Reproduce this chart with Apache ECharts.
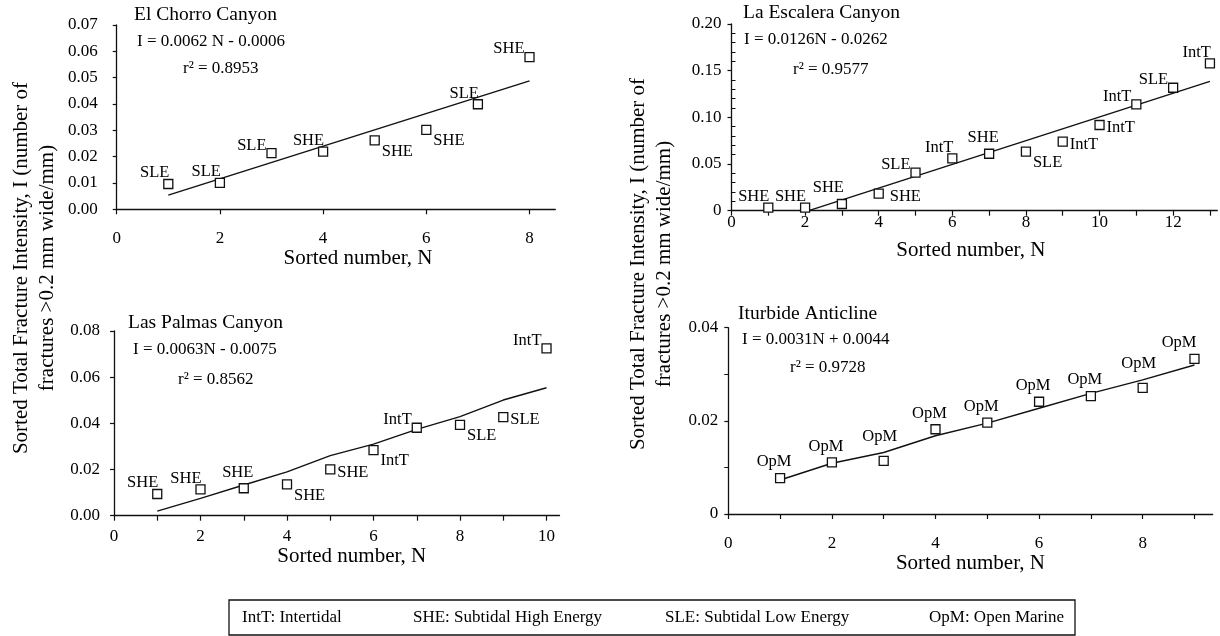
<!DOCTYPE html>
<html>
<head>
<meta charset="utf-8">
<script src="https://cdn.jsdelivr.net/npm/echarts@6/dist/echarts.min.js"></script>
<style>
  html, body { margin: 0; padding: 0; background: #fff; }
  #chart { width: 1220px; height: 636px; }
</style>
</head>
<body>
<div id="chart"></div>
<script>
// El Chorro Canyon
var chorroN = [1, 2, 3, 4, 5, 6, 7, 8];
var chorroI = [0.0096, 0.0100, 0.0213, 0.0219, 0.0262, 0.0302, 0.0399, 0.0578];
var chorroFacies = ["SLE", "SLE", "SLE", "SHE", "SHE", "SHE", "SLE", "SHE"];
var chorroFitN = [1, 8];
var chorroFitI = [0.0054, 0.0488];

// La Escalera Canyon
var escaleraN = [1, 2, 3, 4, 5, 6, 7, 8, 9, 10, 11, 12, 13];
var escaleraI = [0.0032, 0.0032, 0.0072, 0.0182, 0.0407, 0.0561, 0.0610, 0.0632, 0.0739, 0.0918, 0.1139, 0.1317, 0.1578];
var escaleraFacies = ["SHE", "SHE", "SHE", "SHE", "SLE", "IntT", "SHE", "SLE", "IntT", "IntT", "IntT", "SLE", "IntT"];
var escaleraFitN = [2.1, 13];
var escaleraFitI = [0, 0.1385];

// Las Palmas Canyon
var palmasN = [1, 2, 3, 4, 5, 6, 7, 8, 9, 10];
var palmasI = [0.0094, 0.0114, 0.0119, 0.0136, 0.0201, 0.0284, 0.0381, 0.0393, 0.0427, 0.0725];
var palmasFacies = ["SHE", "SHE", "SHE", "SHE", "SHE", "IntT", "IntT", "SLE", "SLE", "IntT"];
var palmasFitN = [1, 2, 3, 4, 5, 6, 7, 8, 9, 10];
var palmasFitI = [0.0020, 0.0075, 0.0133, 0.0190, 0.0260, 0.0310, 0.0374, 0.0429, 0.0501, 0.0554];

// Iturbide Anticline
var iturbideN = [1, 2, 3, 4, 5, 6, 7, 8, 9];
var iturbideI = [0.0077, 0.0111, 0.0114, 0.0182, 0.0196, 0.0241, 0.0253, 0.0271, 0.0333];
var iturbideFacies = ["OpM", "OpM", "OpM", "OpM", "OpM", "OpM", "OpM", "OpM", "OpM"];
var iturbideFitN = [1, 2, 3, 4, 5, 6, 7, 8, 9];
var iturbideFitI = [0.0073, 0.0109, 0.0132, 0.0168, 0.0195, 0.0227, 0.0259, 0.0288, 0.0320];

// tick values
var chorroTicks = [0, 2, 4, 6, 8];
var escaleraTicks = [0, 1, 2, 3, 4, 5, 6, 7, 8, 9, 10, 11, 12, 13];
var escaleraTickLabels = [0, 2, 4, 6, 8, 10, 12];
var palmasTicks = [0, 1, 2, 3, 4, 5, 6, 7, 8, 9, 10];
var palmasTickLabels = [0, 2, 4, 6, 8, 10];
var iturbideTicks = [0, 1, 2, 3, 4, 5, 6, 7, 8, 9];
var iturbideTickLabels = [0, 2, 4, 6, 8];

// where each facies label sits next to its square
var chorroLabelAt = ["ul", "ul", "l", "ul", "lr", "lr", "ul", "l"];
var escaleraLabelAt = ["ul", "ul", "ulh", "rr", "l", "ul", "u", "lr", "r", "r", "l", "l", "ul"];
var palmasLabelAt = ["ul", "ul", "u", "lr", "r", "lr", "l", "lr", "r", "l"];
var iturbideLabelAt = ["u", "u", "uu", "u", "u", "u", "u", "uu", "ulh"];

var FONT = "'Liberation Serif', 'Times New Roman', serif";
var INK = "#111";

var placeStyle = {
  ul:  { align: "right",  offset: [1, -11] },
  ulh: { align: "right",  offset: [2, -16] },
  l:   { align: "right",  offset: [-5, -8] },
  lr:  { align: "left",   offset: [7, 11] },
  r:   { align: "left",   offset: [7, 3] },
  rr:  { align: "left",   offset: [11, 3] },
  u:   { align: "center", offset: [-6, -16] },
  uu:  { align: "center", offset: [-4, -24] }
};

function pairs(xs, ys) {
  return xs.map(function (x, i) { return [x, ys[i]]; });
}

function points(xs, ys, names, at) {
  return xs.map(function (x, i) {
    var p = placeStyle[at[i]];
    return {
      value: [x, ys[i]],
      name: names[i],
      label: { align: p.align, offset: p.offset }
    };
  });
}

function xAxisFor(i, max, ticks, labels, labelMargin, nameGap, namePad) {
  return {
    type: "value", gridIndex: i, min: 0, max: max,
    name: "Sorted number, N", nameLocation: "middle", nameGap: nameGap,
    nameTextStyle: { fontFamily: FONT, fontSize: 21, color: "#000", padding: namePad },
    axisLine: { lineStyle: { color: INK, width: 1.3 } },
    axisTick: { customValues: ticks, length: 5, lineStyle: { color: INK, width: 1.2 } },
    axisLabel: { customValues: labels, margin: labelMargin, fontFamily: FONT, fontSize: 17, color: "#000" },
    splitLine: { show: false }
  };
}

function yAxisFor(i, max, interval, zeroText, margin, minor) {
  return {
    type: "value", gridIndex: i, min: 0, max: max, interval: interval,
    axisLine: { show: true, lineStyle: { color: INK, width: 1.3 } },
    axisTick: { show: true, length: 4, lineStyle: { color: INK, width: 1.2 } },
    minorTick: minor || { show: false },
    axisLabel: {
      margin: margin, fontFamily: FONT, fontSize: 17, color: "#000",
      formatter: function (v) { return v === 0 && zeroText ? zeroText : v.toFixed(2); }
    },
    splitLine: { show: false }
  };
}

function fitLine(i, xs, ys) {
  return {
    type: "line", xAxisIndex: i, yAxisIndex: i, data: pairs(xs, ys),
    symbol: "none", silent: true, z: 2,
    lineStyle: { color: INK, width: 1.4 }
  };
}

function faciesPoints(i, xs, ys, names, at) {
  return {
    type: "scatter", xAxisIndex: i, yAxisIndex: i, symbol: "rect", symbolSize: 9, z: 3,
    itemStyle: { color: "#fff", borderColor: INK, borderWidth: 1.3, opacity: 1 },
    label: {
      show: true, position: "inside", verticalAlign: "middle",
      formatter: "{b}", fontFamily: FONT, fontSize: 16.5, color: "#000"
    },
    data: points(xs, ys, names, at)
  };
}

function note(x, y, text, size) {
  return {
    type: "text", x: x, y: y, silent: true,
    style: { text: text, font: size + "px " + FONT, fill: "#000", textVerticalAlign: "middle" }
  };
}

function yTitle(x, y) {
  return {
    type: "text", x: x, y: y, rotation: Math.PI / 2, silent: true,
    style: {
      text: "Sorted Total Fracture Intensity, I (number of\nfractures >0.2 mm wide/mm)",
      font: "21px " + FONT, fill: "#000", textAlign: "center", textVerticalAlign: "middle",
      lineHeight: 26
    }
  };
}

var chart = echarts.init(document.getElementById("chart"));
chart.setOption({
  animation: false,
  backgroundColor: "#fff",
  grid: [
    { left: 116.7, top: 25, width: 438.6, height: 184.3 },
    { left: 731.5, top: 24, width: 485.8, height: 186.7 },
    { left: 114, top: 331, width: 445.5, height: 184.7 },
    { left: 728.3, top: 327.7, width: 484.3, height: 186.3 }
  ],
  xAxis: [
    xAxisFor(0, 8.5, chorroTicks, chorroTicks, 21, 37, [0, 0, 0, 44]),
    xAxisFor(1, 13.2, escaleraTicks, escaleraTickLabels, 3, 29.5, [0, 7, 0, 0]),
    xAxisFor(2, 10.3, palmasTicks, palmasTickLabels, 12.5, 30.5, [0, 0, 0, 30]),
    xAxisFor(3, 9.35, iturbideTicks, iturbideTickLabels, 21, 39, 0)
  ],
  yAxis: [
    yAxisFor(0, 0.07, 0.01, null, 19),
    yAxisFor(1, 0.20, 0.05, "0", 10, { show: true, splitNumber: 5, length: -4, lineStyle: { color: INK, width: 1 } }),
    yAxisFor(2, 0.08, 0.02, null, 14),
    yAxisFor(3, 0.04, 0.02, "0", 10, { show: true, splitNumber: 2, length: 4, lineStyle: { color: INK, width: 1 } })
  ],
  series: [
    fitLine(0, chorroFitN, chorroFitI),
    faciesPoints(0, chorroN, chorroI, chorroFacies, chorroLabelAt),
    fitLine(1, escaleraFitN, escaleraFitI),
    faciesPoints(1, escaleraN, escaleraI, escaleraFacies, escaleraLabelAt),
    fitLine(2, palmasFitN, palmasFitI),
    faciesPoints(2, palmasN, palmasI, palmasFacies, palmasLabelAt),
    fitLine(3, iturbideFitN, iturbideFitI),
    faciesPoints(3, iturbideN, iturbideI, iturbideFacies, iturbideLabelAt)
  ],
  graphic: [
    note(134, 15, "El Chorro Canyon", 19.5),
    note(137, 42, "I = 0.0062 N - 0.0006", 17),
    note(183, 69, "r\u00b2 = 0.8953", 17),
    note(743, 13, "La Escalera Canyon", 19.5),
    note(744, 40, "I = 0.0126N - 0.0262", 17),
    note(793, 70, "r\u00b2 = 0.9577", 17),
    note(128, 323, "Las Palmas Canyon", 19.5),
    note(133, 350, "I = 0.0063N - 0.0075", 17),
    note(178, 380, "r\u00b2 = 0.8562", 17),
    note(738, 314, "Iturbide Anticline", 19.5),
    note(742, 340, "I = 0.0031N + 0.0044", 17),
    note(790, 368, "r\u00b2 = 0.9728", 17),
    yTitle(34, 268),
    yTitle(651, 264),
    {
      type: "rect", silent: true,
      shape: { x: 229, y: 600, width: 846, height: 35 },
      style: { fill: "#fff", stroke: INK, lineWidth: 1.3 }
    },
    note(242, 618, "IntT: Intertidal", 17),
    note(413, 618, "SHE: Subtidal High Energy", 17),
    note(665, 618, "SLE: Subtidal Low Energy", 17),
    note(929, 618, "OpM: Open Marine", 17)
  ]
});
</script>
</body>
</html>
